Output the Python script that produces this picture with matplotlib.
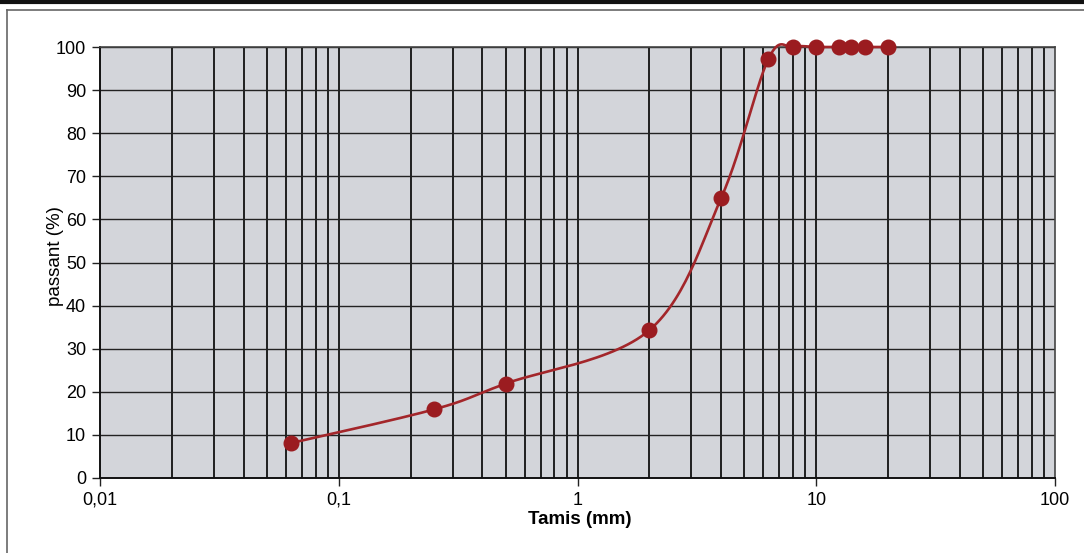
import matplotlib
matplotlib.use("Agg")
import matplotlib.pyplot as plt
import numpy as np
from matplotlib.ticker import FixedLocator, FuncFormatter, NullFormatter
from matplotlib.lines import Line2D

# Tamis (mm) et passant (%)
tamis = [0.063, 0.25, 0.5, 2, 4, 6.3, 8, 10, 12.5, 14, 16, 20]
passant = [8.1, 15.9, 21.9, 34.3, 65, 97.2, 100, 100, 100, 100, 100, 100]
yticks = [0, 10, 20, 30, 40, 50, 60, 70, 80, 90, 100]
xticks = [0.01, 0.1, 1, 10, 100]
xticklabels = ["0,01", "0,1", "1", "10", "100"]

plt.rcParams['font.family'] = ['Liberation Sans', 'DejaVu Sans']


def lissage(x, y, n=30):
	# courbe lissee facon Excel (Catmull-Rom) en echelle log
	lx = np.log10(x)
	y = np.asarray(y, dtype=float)
	px = np.concatenate([[lx[0]], lx, [lx[-1]]])
	py = np.concatenate([[y[0]], y, [y[-1]]])
	sx, sy = [], []
	for i in range(1, len(px) - 2):
		p0, p1, p2, p3 = np.array([px[i-1], py[i-1]]), np.array([px[i], py[i]]), np.array([px[i+1], py[i+1]]), np.array([px[i+2], py[i+2]])
		c1 = p1 + (p2 - p0) / 6.0
		c2 = p2 - (p3 - p1) / 6.0
		t = np.linspace(0, 1, n)[:, None]
		b = (1-t)**3*p1 + 3*(1-t)**2*t*c1 + 3*(1-t)*t**2*c2 + t**3*p2
		sx.extend(b[:, 0]); sy.extend(b[:, 1])
	return 10**np.array(sx), np.array(sy)


fig = plt.figure(figsize=(10.84, 5.53), dpi=100)
ax = fig.add_axes([100/1084, 75/553, 955/1084, 431/553])
ax.set_facecolor("#d3d5da")

ax.set_xscale("log")
ax.set_xlim(0.01, 100)
ax.set_ylim(0, 100)

# grille verticale (toutes les graduations) et horizontale
minors = []
for d in [0.01, 0.1, 1, 10]:
	for k in range(2, 10):
		minors.append(k * d)
for v in minors + xticks[1:-1]:
	ax.axvline(v, color="#111111", lw=1.3, zorder=1)
for v in yticks[1:]:
	ax.axhline(v, color="#222222", lw=1.0, zorder=1)

ax.xaxis.set_major_locator(FixedLocator(xticks))
ax.xaxis.set_minor_locator(FixedLocator(minors))
ax.xaxis.set_minor_formatter(NullFormatter())
ax.xaxis.set_major_formatter(FuncFormatter(lambda v, p: xticklabels[xticks.index(v)] if v in xticks else ""))
ax.set_yticks(yticks)
ax.tick_params(axis="x", which="minor", length=0)
ax.tick_params(axis="x", which="major", length=6, width=1, direction="out", labelsize=13, pad=4, color="#222222")
ax.tick_params(axis="y", length=6, width=1, direction="out", labelsize=13, pad=4, color="#222222")

for s in ["top", "right"]:
	ax.spines[s].set_color("#444444")
	ax.spines[s].set_linewidth(1.2)
for s in ["left", "bottom"]:
	ax.spines[s].set_color("#111111")
	ax.spines[s].set_linewidth(1.4)

sx, sy = lissage(tamis, passant)
ax.plot(sx, sy, color="#a3262a", lw=1.9, zorder=3, clip_on=False)
ax.plot(tamis, passant, "o", color="#9b1c20", markersize=10.5, zorder=4, clip_on=False)

fig.text(56/1084, 1 - 256/553, "passant (%)", rotation=90, ha="center", va="center", fontsize=13.5)
fig.text(580/1084, 1 - 519/553, "Tamis (mm)", ha="center", va="center", fontsize=13.5, fontweight="bold")

# cadre
fig.add_artist(Line2D([0, 1], [1 - 1.5/553, 1 - 1.5/553], color="#111111", lw=3, transform=fig.transFigure))
fig.add_artist(Line2D([7/1084, 1], [1 - 10/553, 1 - 10/553], color="#666666", lw=1.2, transform=fig.transFigure))
fig.add_artist(Line2D([7/1084, 7/1084], [0, 1 - 10/553], color="#666666", lw=1.2, transform=fig.transFigure))

plt.savefig("out.png", dpi=100)
